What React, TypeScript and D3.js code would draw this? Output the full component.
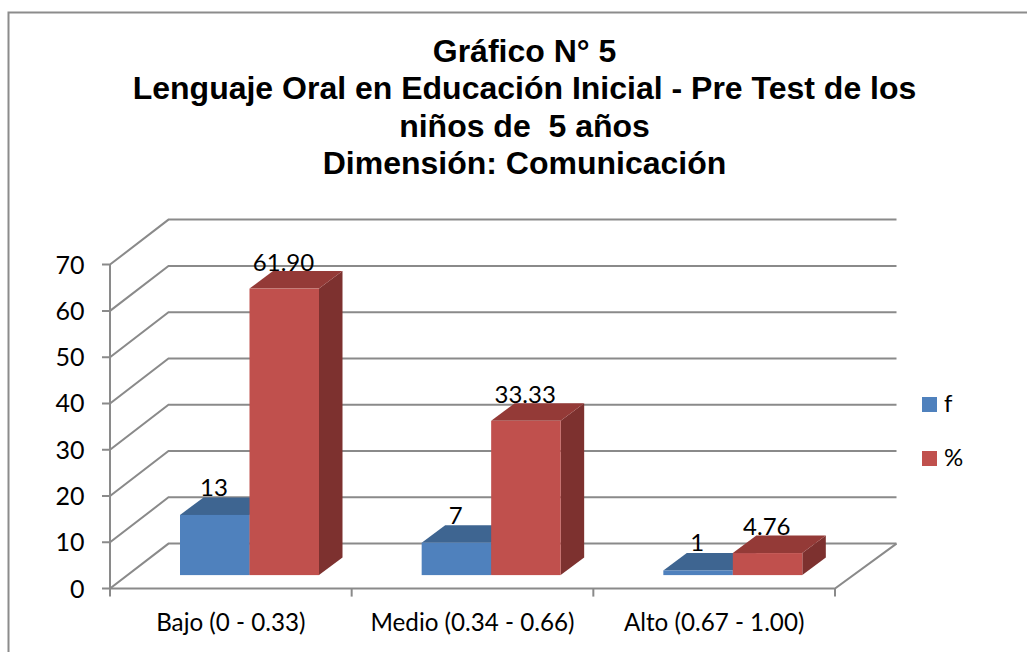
import React from "react";
import * as d3 from "d3";

const categories = ["Bajo (0 - 0.33)", "Medio (0.34 - 0.66)", "Alto (0.67 - 1.00)"];
const fValues = [13, 7, 1];
const pctValues = [61.9, 33.33, 4.76];
const pctLabels = ["61.90", "33.33", "4.76"];
const yTicks = [0, 10, 20, 30, 40, 50, 60, 70];
const titleLines = [
  "Gráfico N° 5",
  "Lenguaje Oral en Educación Inicial - Pre Test de los",
  "niños de  5 años",
  "Dimensión: Comunicación",
];
const seriesNames = ["f", "%"];

const W = 1027, H = 652;
const x0 = 110, x1 = 835, y0 = 588.6, y70 = 264.6;
const depthX = 58.5, depthY = 45;
const barDX = 23.5, barDY = 17.5, barLift = 13.5;
const barW = 69.5;
const axisColor = "#8a8a8a";
const font = "Lato, 'Open Sans', sans-serif";

const y = d3.scaleLinear().domain([0, 70]).range([y0, y70]);
const x = d3.scaleBand<string>().domain(categories).range([x0, x1]);

function Bar({ left, value, front, top, side }: { left: number; value: number; front: string; top: string; side: string }) {
  const b = y0 - barLift;
  const t = y(value) - barLift;
  const r = left + barW;
  const poly = (pts: [number, number][]) => {
    const p = d3.path();
    pts.forEach(([a, c], i) => (i ? p.lineTo(a, c) : p.moveTo(a, c)));
    p.closePath();
    return p.toString();
  };
  return (
    <g>
      <path d={poly([[r, t], [r + barDX, t - barDY], [r + barDX, b - barDY], [r, b]])} fill={side} />
      <path d={poly([[left, t], [left + barDX, t - barDY], [r + barDX, t - barDY], [r, t]])} fill={top} />
      <rect x={left} y={t} width={barW} height={b - t} fill={front} />
    </g>
  );
}

export default function App() {
  return (
    <svg width={W} height={H} viewBox={`0 0 ${W} ${H}`} style={{ position: "absolute", left: 0, top: 0, background: "#fff" }}>
      <path d={`M8.5 ${H}V12.5H${W}`} fill="none" stroke="#8c8c8c" strokeWidth={2} />
      {titleLines.map((l, i) => (
        <text key={i} x={524.5} y={61.5 + i * 37.5} textAnchor="middle" xmlSpace="preserve" style={{ whiteSpace: "pre" }} fontFamily="'Liberation Sans', Arial, sans-serif" fontWeight={700} fontSize={32} fill="#000">
          {l}
        </text>
      ))}
      {yTicks.map((t) => (
        <path key={t} d={`M${x0 - 8} ${y(t)}H${x0}L${x0 + depthX} ${y(t) - depthY}H${x1 + depthX + 3}`} stroke={axisColor} strokeWidth={2} fill="none" />
      ))}
      <path d={`M${x0} ${y70}V${y0 + 8}`} stroke={axisColor} strokeWidth={2} fill="none" />
      <path d={`M${x0} ${y0}H${x1}L${x1 + depthX + 3} ${y0 - depthY}`} stroke={axisColor} strokeWidth={2} fill="none" />
      {categories.map((_, i) => (
        <path key={i} d={`M${x0 + (i + 1) * x.bandwidth()} ${y0}v8`} stroke={axisColor} strokeWidth={2} fill="none" />
      ))}
      {yTicks.map((t) => (
        <text key={t} x={84.5} y={y(t) + 9} textAnchor="end" fontFamily={font} fontSize={25} fill="#000">{t}</text>
      ))}
      {categories.map((c, i) => {
        const left = (x(c) as number) + 70;
        return (
          <g key={c}>
            <Bar left={left} value={fValues[i]} front="#4f81bd" top="#3e6591" side="#385d8a" />
            <Bar left={left + barW} value={pctValues[i]} front="#c0504d" top="#943a37" side="#7d312f" />
            <text x={left + 34} y={y(fValues[i]) - barLift - 19} textAnchor="middle" fontFamily={font} fontSize={24} fill="#000">{fValues[i]}</text>
            <text x={left + barW + 34} y={y(pctValues[i]) - barLift - 18} textAnchor="middle" fontFamily={font} fontSize={24} fill="#000">{pctLabels[i]}</text>
            <text x={(x(c) as number) + x.bandwidth() / 2} y={630.5} textAnchor="middle" fontFamily={font} fontSize={24.2} fill="#000">{c}</text>
          </g>
        );
      })}
      {seriesNames.map((s, i) => (
        <g key={s}>
          <rect x={922} y={397 + i * 54} width={15} height={15} fill={i ? "#c0504d" : "#4f81bd"} />
          <text x={944} y={412 + i * 54} fontFamily={font} fontSize={24} fill="#000">{s}</text>
        </g>
      ))}
    </svg>
  );
}
